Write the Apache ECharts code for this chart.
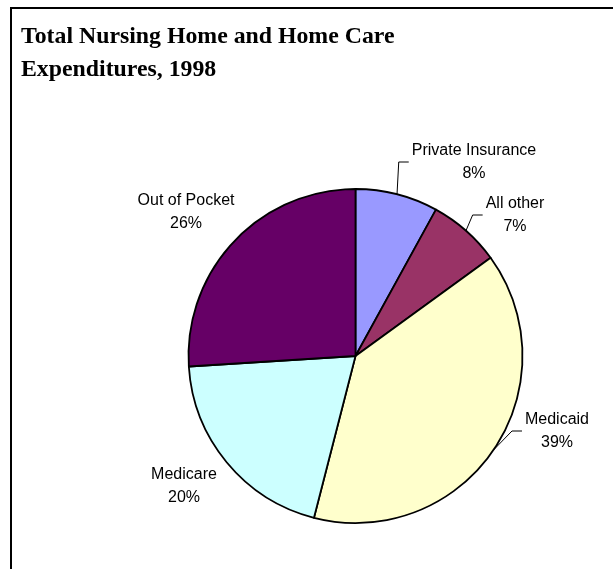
<!DOCTYPE html>
<html>
<head>
<meta charset="utf-8">
<script src="https://cdn.jsdelivr.net/npm/echarts@6/dist/echarts.min.js"></script>
<style>
  html, body { margin: 0; padding: 0; background: #fff; }
  #chart { width: 613px; height: 569px; }
</style>
</head>
<body>
<div id="chart"></div>
<script>
// data (percent of total spending, 1998)
const categories = ['Private Insurance', 'All other', 'Medicaid', 'Medicare', 'Out of Pocket']
const shares = [8, 7, 39, 20, 26]
const sliceColors = ['#9999FF', '#993366', '#FFFFCC', '#CCFFFF', '#660066']

// where each label sits (layout only) and whether it gets a leader line
const labelSpots = {
  'Private Insurance': { x: 474, y: 162, line: true },
  'All other': { x: 515, y: 215, line: true },
  'Medicaid': { x: 557, y: 431, line: true },
  'Medicare': { x: 184, y: 486, line: false },
  'Out of Pocket': { x: 186, y: 212, line: false }
}

const chart = echarts.init(document.getElementById('chart'))

const pieData = categories.map((name, i) => ({
  name: name,
  value: shares[i],
  itemStyle: { color: sliceColors[i] },
  labelLine: { show: labelSpots[name].line }
}))

const option = {
  animation: false,
  backgroundColor: '#fff',
  title: {
    text: 'Total Nursing Home and Home Care\nExpenditures, 1998',
    left: 21,
    top: 20,
    padding: 0,
    textStyle: {
      fontFamily: 'Liberation Serif',
      fontWeight: 'bold',
      fontSize: 23.8,
      lineHeight: 33,
      color: '#000'
    }
  },
  // outer frame (only top and left edges show in the picture)
  graphic: [
    {
      type: 'polyline',
      silent: true,
      shape: { points: [[11, 569], [11, 8], [613, 8]] },
      style: { stroke: '#000', lineWidth: 2, fill: null }
    }
  ],
  series: [
    {
      type: 'pie',
      center: [355.5, 356],
      radius: 167,
      startAngle: 90,
      clockwise: true,
      data: pieData,
      emphasis: { disabled: true },
      itemStyle: {
        borderColor: '#000',
        borderWidth: 1.8
      },
      label: {
        show: true,
        position: 'outside',
        formatter: '{b}\n{d}%',
        fontFamily: 'Liberation Sans',
        fontSize: 16,
        lineHeight: 23,
        color: '#000',
        align: 'center',
        padding: [0, 3]
      },
      labelLine: {
        length: 10,
        length2: 10,
        lineStyle: { color: '#000', width: 1 }
      },
      labelLayout: function (params) {
        const spot = labelSpots[categories[params.dataIndex]]
        return {
          x: spot.x,
          y: spot.y,
          align: 'center',
          verticalAlign: 'middle'
        }
      }
    }
  ]
}

chart.setOption(option)
</script>
</body>
</html>
